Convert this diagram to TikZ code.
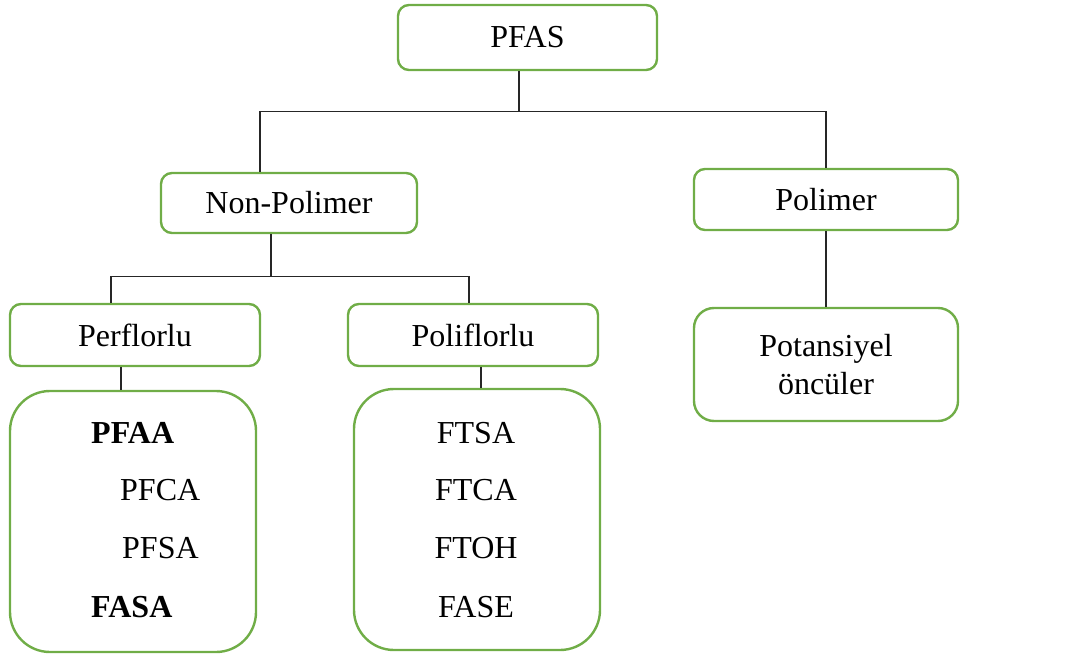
\documentclass[tikz,border=0pt]{standalone}
\usepackage{fontspec}
\setmainfont{Liberation Serif}
\usetikzlibrary{shapes,positioning}
\definecolor{boxgreen}{RGB}{112,173,71}
\tikzstyle{catbox}=[rectangle,draw=boxgreen,line width=2.4pt,rounded corners=11pt,align=center,inner sep=0pt,font=\fontsize{32}{38}\selectfont]
\tikzstyle{listbox}=[rectangle,draw=boxgreen,line width=2.4pt,rounded corners=40pt,inner sep=0pt,minimum width=246pt,minimum height=261pt]
\tikzstyle{entry}=[inner sep=0pt,font=\fontsize{32}{38}\selectfont]
\tikzstyle{conn}=[line width=1.1pt,black!85]

\begin{document}
\begin{tikzpicture}[x=1pt,y=-1pt]
\useasboundingbox (0,0) rectangle (1065,655);
\node[catbox, minimum width=259pt, minimum height=65pt] (pfas) at (527.5,37.5) {PFAS};
\node[catbox, minimum width=256pt, minimum height=60pt] (nonpol) at (289,203) {Non-Polimer};
\node[catbox, minimum width=264pt, minimum height=61pt] (polim) at (826,199.5) {Polimer};
\node[catbox, minimum width=250pt, minimum height=62pt] (perfl) at (135,335) {Perflorlu};
\node[catbox, minimum width=250pt, minimum height=62pt] (polifl) at (473,335) {Poliflorlu};
\node[catbox, minimum width=264pt, minimum height=113pt, rounded corners=20pt] (potans) at (826,364.5) {Potansiyel\\öncüler};
\node[listbox] (perlist) at (133,521.5) {};
\node[listbox] (polilist) at (477,519.5) {};
% left list
\node[entry, anchor=base west] (pfaa) at (91,443) {\textbf{PFAA}};
\node[entry, anchor=base west] (pfca) at (120,500) {PFCA};
\node[entry, anchor=base west] (pfsa) at (122,558) {PFSA};
\node[entry, anchor=base west] (fasa) at (91,617) {\textbf{FASA}};
% right list
\node[entry, anchor=base] (ftsa) at (476,443) {FTSA};
\node[entry, anchor=base] (ftca) at (476,500) {FTCA};
\node[entry, anchor=base] (ftoh) at (476,558) {FTOH};
\node[entry, anchor=base] (fase) at (476,617) {FASE};
% connectors
\draw[conn] ([xshift=-8.5pt]pfas.south) -- ++(0,40) coordinate (bar1);
\draw[conn] ([xshift=-29pt]nonpol.north) |- (bar1) -| (polim.north);
\draw[conn] ([xshift=-18pt]nonpol.south) -- ++(0,42) coordinate (bar2);
\draw[conn] ([xshift=-24pt]perfl.north) |- (bar2) -| ([xshift=-4pt]polifl.north);
\draw[conn] ([xshift=-14pt]perfl.south) -- ([xshift=-12pt]perlist.north);
\draw[conn] ([xshift=8pt]polifl.south) -- ([xshift=4pt]polilist.north);
\draw[conn] (polim) -- (potans);
\end{tikzpicture}
\end{document}
